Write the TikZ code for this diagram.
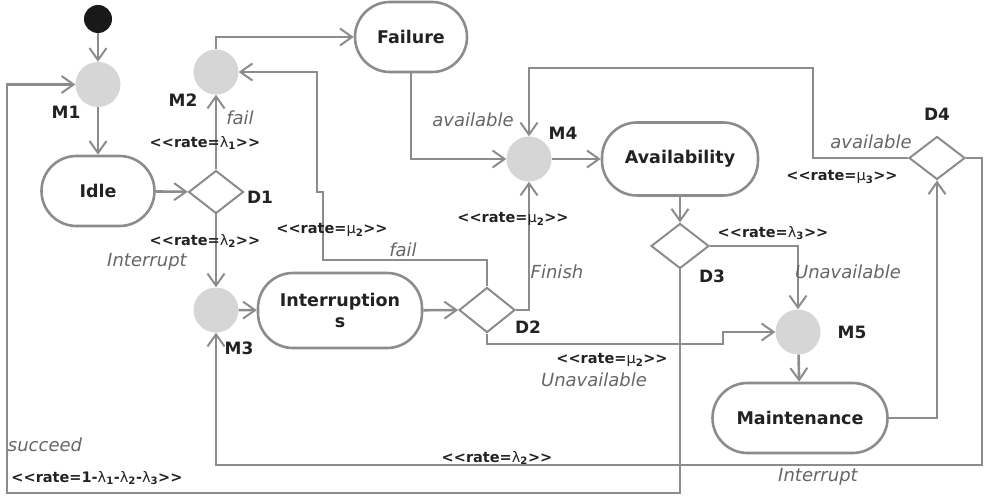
\documentclass[tikz,border=0pt]{standalone}
\usepackage{fontspec}
\setmainfont{DejaVu Sans}
\usetikzlibrary{arrows.meta,shapes.geometric}
\definecolor{lineGray}{HTML}{8C8C8C}
\definecolor{mergeGray}{HTML}{D6D6D6}
\definecolor{txtDark}{HTML}{222222}
\definecolor{txtItal}{HTML}{666666}
\tikzset{
  conn/.style={draw=lineGray, line width=2.6pt},
  arr/.style={conn, -{Straight Barb[length=12pt,width=17pt,line width=2pt]}},
  merge/.style={circle, fill=mergeGray, minimum size=45pt, inner sep=0pt},
  startnode/.style={circle, fill=black!90, minimum size=28pt, inner sep=0pt},
  act/.style={rectangle, draw=lineGray, line width=2.6pt, rounded corners=35pt, fill=white,
    font=\fontsize{17.5}{21}\selectfont\bfseries, text=txtDark, align=center, inner sep=0pt},
  decision/.style={diamond, draw=lineGray, line width=2pt, fill=white, inner sep=0pt},
  nlab/.style={font=\fontsize{17}{20}\selectfont\bfseries, text=txtDark, inner sep=0pt},
  ilab/.style={font=\fontsize{18}{21}\selectfont\itshape, text=txtItal, inner sep=0pt},
  rlab/.style={font=\fontsize{14.5}{17}\selectfont\bfseries, text=txtDark, inner sep=0pt}
}
\newcommand{\gk}[1]{{\mdseries #1}}
\begin{document}
\begin{tikzpicture}[x=1pt,y=-1pt]
\useasboundingbox (0,0) rectangle (991,497);

% nodes
\node[startnode] (start) at (98,19) {};
\node[merge] (M1) at (98,84.5) {};
\node[merge] (M2) at (216,72) {};
\node[merge] (M3) at (216,310) {};
\node[merge] (M4) at (529,159) {};
\node[merge] (M5) at (798,332) {};

\node[act, minimum width=113pt, minimum height=70pt] (Idle) at (98,191) {Idle};
\node[act, minimum width=112pt, minimum height=70pt] (Failure) at (411,37) {Failure};
\node[act, minimum width=156pt, minimum height=73pt] (Avail) at (680,159) {Availability};
\node[act, minimum width=164pt, minimum height=75pt] (Inter) at (340,310.5) {Interruption\\s};
\node[act, minimum width=175pt, minimum height=70pt] (Maint) at (800,418) {Maintenance};

\node[decision, minimum width=55pt, minimum height=43pt] (D1) at (216,192) {};
\node[decision, minimum width=56pt, minimum height=45pt] (D2) at (487,310) {};
\node[decision, minimum width=58pt, minimum height=45pt] (D3) at (680,246) {};
\node[decision, minimum width=56pt, minimum height=43pt] (D4) at (937,158) {};

% node labels
\node[nlab] (lM1) at (66,112) {M1};
\node[nlab] (lM2) at (183,100) {M2};
\node[nlab] (lM3) at (239,348) {M3};
\node[nlab] (lM4) at (563,133) {M4};
\node[nlab] (lM5) at (852,332) {M5};
\node[nlab] (lD1) at (260,197) {D1};
\node[nlab] (lD2) at (528,327) {D2};
\node[nlab] (lD3) at (712,276) {D3};
\node[nlab] (lD4) at (937,114) {D4};

% waypoints
\coordinate (w1z) at (487,260);
\coordinate (w1a) at (323,260);
\coordinate (w1b) at (323,192);
\coordinate (w1c) at (317,192);
\coordinate (w1d) at (317,72);
\coordinate (w2a) at (487,344);
\coordinate (w2b) at (723,344);
\coordinate (w2c) at (723,332);
\coordinate (w3a) at (813,158);
\coordinate (w3b) at (813,68);
\coordinate (w3c) at (529,68);
\coordinate (w4a) at (982,158);
\coordinate (w4b) at (982,465);
\coordinate (w4c) at (216,465);
\coordinate (w5a) at (680,493);
\coordinate (w5b) at (7,493);
\coordinate (w5c) at (7,84.5);

% connectors
\draw[arr] (start) -- (M1);
\draw[arr] (M1) -- (Idle);
\draw[arr] (Idle) -- (D1);
\draw[arr] (D1.north) -- (M2.south);
\draw[arr] (D1.south) -- (M3.north);
\draw[arr] (M2.north) |- (Failure.west);
\draw[arr] (Failure.south) |- (M4.west);
\draw[arr] (M4) -- (Avail);
\draw[arr] (Avail.south) -- (D3.north);
\draw[arr] (D3.east) -| (M5.north);
\draw[arr] (M5) -- (Maint);
\draw[arr] (Maint.east) -| (D4.south);
\draw[arr] (D4.west) -- (w3a) -- (w3b) -- (w3c) -- (M4.north);
\draw[arr] (D4.east) -- (w4a) -- (w4b) -- (w4c) -- (M3.south);
\draw[arr] (D3.south) -- (w5a) -- (w5b) -- (w5c) -- (M1.west);
\draw[arr] (M3) -- (Inter);
\draw[arr] (Inter) -- (D2);
\draw[arr] (D2.north) -- (w1z) -- (w1a) -- (w1b) -- (w1c) -- (w1d) -- (M2.east);
\draw[arr] (D2.east) -| (M4.south);
\draw[arr] (D2.south) -- (w2a) -- (w2b) -- (w2c) -- (M5.west);

% edge labels
\node[ilab] (t1) at (240,118) {fail};
\node[rlab] (r1) at (205,143) {<{}<rate=\gk{λ}\textsubscript{1}>{}>};
\node[rlab] (r2) at (205,241) {<{}<rate=\gk{λ}\textsubscript{2}>{}>};
\node[ilab] (t2) at (147,262) {Interrupt};
\node[ilab] (t3) at (473,120) {available};
\node[rlab] (r3) at (332,230) {<{}<rate=\gk{μ}\textsubscript{2}>{}>};
\node[ilab] (t4) at (403,250) {fail};
\node[rlab] (r4) at (513,219) {<{}<rate=\gk{μ}\textsubscript{2}>{}>};
\node[ilab] (t5) at (557,272) {Finish};
\node[rlab] (r5) at (612,360) {<{}<rate=\gk{μ}\textsubscript{2}>{}>};
\node[ilab] (t6) at (594,380) {Unavailable};
\node[rlab] (r6) at (773,233) {<{}<rate=\gk{λ}\textsubscript{3}>{}>};
\node[ilab] (t7) at (848,272) {Unavailable};
\node[ilab] (t8) at (871,142) {available};
\node[rlab] (r7) at (842,177) {<{}<rate=\gk{μ}\textsubscript{3}>{}>};
\node[rlab] (r8) at (497,458) {<{}<rate=\gk{λ}\textsubscript{2}>{}>};
\node[ilab] (t9) at (818,477) {Interrupt};
\node[ilab] (t10) at (45,445) {succeed};
\node[rlab] (r9) at (97,478) {<{}<rate=1-\gk{λ}\textsubscript{1}-\gk{λ}\textsubscript{2}-\gk{λ}\textsubscript{3}>{}>};
\end{tikzpicture}
\end{document}
